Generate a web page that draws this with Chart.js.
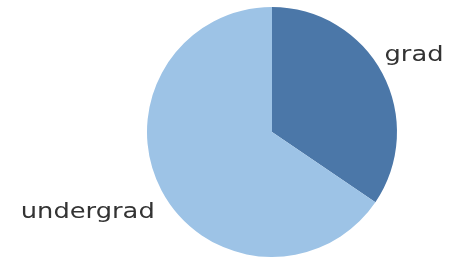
<!DOCTYPE html>
<html>
<head>
<meta charset="utf-8">
<script src="https://cdn.jsdelivr.net/npm/chart.js@4"></script>
<style>
html,body{margin:0;padding:0;background:#fff;}
#wrap{width:455px;height:260px;}
</style>
</head>
<body>
<div id="wrap"><canvas id="c" width="455" height="260"></canvas></div>
<script>
const categories = ["grad", "undergrad"];
const values = [34.5, 65.5];
const colors = ["#4b77a8", "#9dc3e6"];

const labelPlugin = {
  id: 'sliceLabels',
  afterDraw(chart) {
    const ctx = chart.ctx;
    const meta = chart.getDatasetMeta(0);
    meta.data.forEach((arc, i) => {
      const r = arc.outerRadius;
      let x, y;
      if (i === 0) {
        x = arc.x + r * 0.90; y = arc.y - r * 0.57;
      } else {
        x = arc.x - r * 2.01; y = arc.y + r * 0.69;
      }
      ctx.save();
      ctx.translate(x, y);
      ctx.scale(1.17, 1);
      ctx.font = '22px "DejaVu Sans", Verdana, sans-serif';
      ctx.fillStyle = '#333333';
      ctx.textBaseline = 'alphabetic';
      ctx.textAlign = 'left';
      ctx.fillText(categories[i], 0, 0);
      ctx.restore();
    });
  }
};

new Chart(document.getElementById('c'), {
  type: 'pie',
  data: {
    labels: categories,
    datasets: [{
      data: values,
      backgroundColor: colors,
      borderWidth: 0
    }]
  },
  options: {
    responsive: false,
    animation: false,
    layout: { padding: { left: 147, right: 58, top: 7, bottom: 3 } },
    plugins: { legend: { display: false }, tooltip: { enabled: false } }
  },
  plugins: [labelPlugin]
});
</script>
</body>
</html>
